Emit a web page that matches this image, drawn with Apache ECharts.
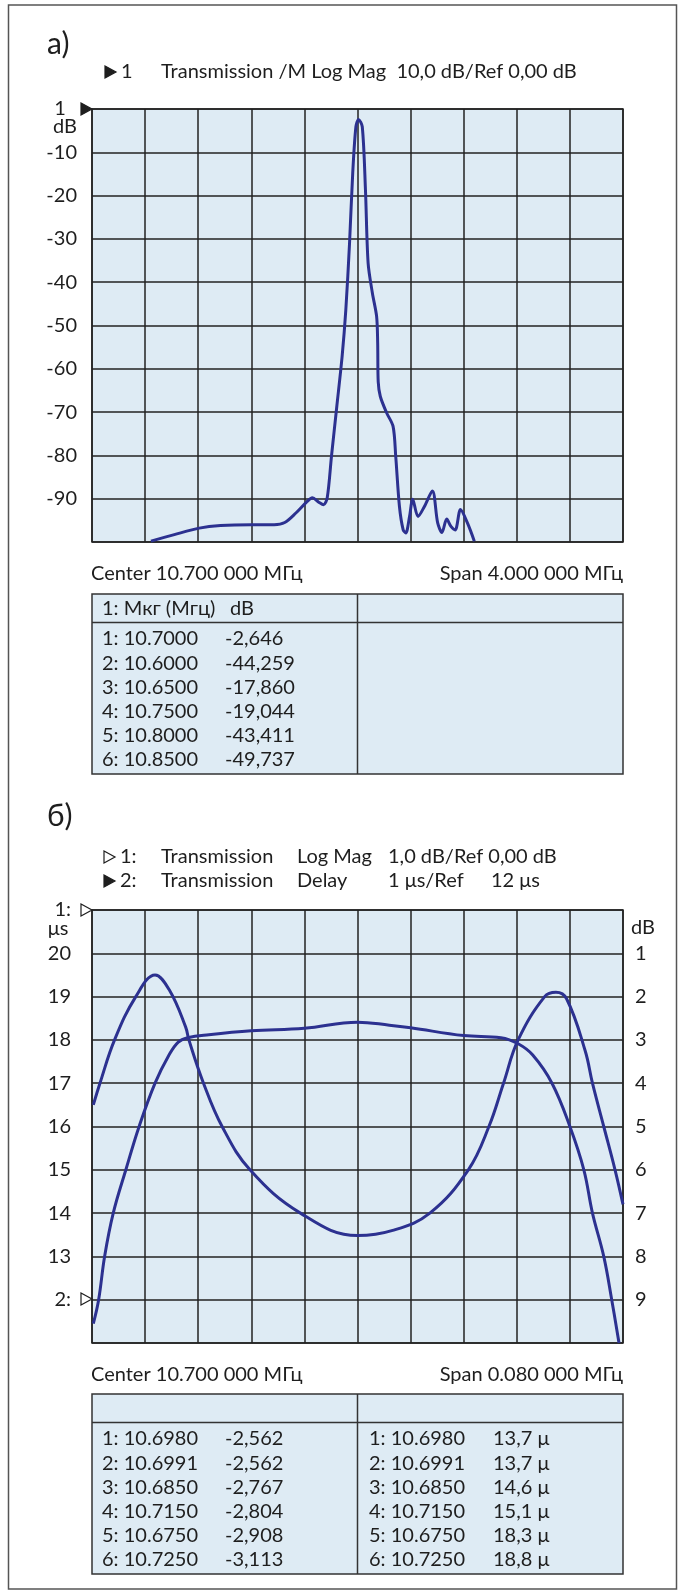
<!DOCTYPE html>
<html>
<head>
<meta charset="utf-8">
<script src="https://cdn.jsdelivr.net/npm/echarts@6/dist/echarts.min.js"></script>
<style>
  html, body { margin: 0; padding: 0; background: #fff; }
  #chart { width: 678px; height: 1592px; }
</style>
</head>
<body>
<div id="chart"></div>
<script>
// --- chart a: offset from 10.700 MHz in kHz, level in dB
const aOffsetKHz = [-1556, -1380, -1192, -1032, -800, -628, -548, -464, -384, -340, -292, -256, -228, -196, -156, -116, -88, -60, -36, -12, 8, 36, 60, 80, 112, 144, 152, 156, 172, 220, 268, 288, 316, 344, 364, 392, 416, 456, 504, 564, 604, 636, 672, 704, 736, 776, 828, 880];
const aLevelDb = [-99.8, -98.3, -96.8, -96.2, -96.0, -96.0, -95.5, -93.3, -90.8, -89.8, -90.8, -91.4, -89.8, -80.2, -68.7, -57.2, -46.4, -31.0, -14.8, -4.1, -2.4, -4.1, -18.7, -35.6, -42.5, -47.9, -54, -63, -66.4, -70.2, -73.3, -80.2, -91.8, -97.2, -97.9, -94.1, -90.1, -94.1, -91.8, -88.2, -95.6, -97.8, -94.7, -96.4, -97.2, -92.5, -95.6, -99.8];

// --- chart b: offset from 10.700 MHz in kHz
const bDelayKHz = [-39.8, -38.8, -36.6, -33.4, -30.5, -28.3, -25.9, -25.4, -23.2, -20.4, -16.2, -8.6, 0, 5.3, 10.9, 16.7, 19.8, 22.0, 24.2, 28.2, 29.9, 31.5, 34.3, 35.4, 37.1, 38.8, 40];
const bDelayUs = [16.5, 17.0, 18.0, 19.0, 19.5, 19.14, 18.3, 18.0, 17.0, 16.0, 15.0, 14.0, 13.48, 13.6, 14.0, 15.0, 16.0, 17.0, 18.0, 19.0, 19.1, 18.95, 17.75, 17.0, 16.0, 15.0, 14.2];
const bMagKHz = [-39.8, -39.0, -38.1, -36.8, -34.9, -32.9, -30.5, -28.4, -27.0, -25.6, -22.4, -16.0, -8.0, 0, 4.8, 8.0, 16.0, 21.6, 24.2, 26.4, 29.3, 32.0, 34.1, 35.4, 37.1, 38.3, 39.4];
const bMagDb = [-9.55, -9.0, -8.0, -7.0, -6.0, -5.0, -4.0, -3.35, -3.05, -2.95, -2.88, -2.79, -2.73, -2.59, -2.66, -2.72, -2.9, -2.95, -3.09, -3.35, -4.0, -5.0, -6.0, -7.0, -8.0, -9.0, -10.0];

// --- marker tables
const tableAHead = ["1: Мкг (Мгц)", "dB"];
const tableAFreq = ["1: 10.7000", "2: 10.6000", "3: 10.6500", "4: 10.7500", "5: 10.8000", "6: 10.8500"];
const tableADb = ["-2,646", "-44,259", "-17,860", "-19,044", "-43,411", "-49,737"];
const tableBFreq = ["1: 10.6980", "2: 10.6991", "3: 10.6850", "4: 10.7150", "5: 10.6750", "6: 10.7250"];
const tableBDb = ["-2,562", "-2,562", "-2,767", "-2,804", "-2,908", "-3,113"];
const tableBDelay = ["13,7 μ", "13,7 μ", "14,6 μ", "15,1 μ", "18,3 μ", "18,8 μ"];

const FONT = "Lato, 'Noto Sans', 'DejaVu Sans', sans-serif";
const INK = "#1e1e1e";
const GRID_BG = "#deebf4";
const LINE = "#2c3190";
const FS = 20;

function zip(xs, ys) {
  return xs.map((x, i) => [x, ys[i]]);
}

function txt(x, y, text, opts) {
  return {
    type: "text",
    x: x,
    y: y,
    style: Object.assign({
      text: text,
      fill: INK,
      font: `${FS}px ${FONT}`,
      textAlign: "left",
      textVerticalAlign: "middle"
    }, opts || {})
  };
}

function tri(x, y, filled) {
  return {
    type: "polygon",
    shape: { points: [[x, y - 6], [x, y + 6], [x + 11, y]] },
    style: { fill: filled ? INK : "#fff", stroke: INK, lineWidth: 1.2 }
  };
}

function table(top, header, cols) {
  const left = 92, right = 623, mid = 357.5, h = 180;
  const els = [
    { type: "rect", shape: { x: left, y: top, width: right - left, height: h }, style: { fill: GRID_BG, stroke: "#333", lineWidth: 1.5 } },
    { type: "line", shape: { x1: left, y1: top + 28.5, x2: right, y2: top + 28.5 }, style: { stroke: "#333", lineWidth: 1.5 } },
    { type: "line", shape: { x1: mid, y1: top, x2: mid, y2: top + h }, style: { stroke: "#333", lineWidth: 1.5 } }
  ];
  header.forEach((hd) => els.push(txt(hd.x, top + 15, hd.text)));
  cols.forEach((col) => {
    col.values.forEach((v, i) => els.push(txt(col.x, top + 45 + i * 24.2, v)));
  });
  return els;
}

const chart = echarts.init(document.getElementById("chart"));

const axisText = { color: INK, fontSize: FS, fontFamily: FONT };
const split = { show: true, lineStyle: { color: "#222", width: 1.5 } };

const graphics = [
  { type: "rect", shape: { x: 8.5, y: 5, width: 668, height: 1584 }, style: { fill: "none", stroke: "#555", lineWidth: 1.5 } },
  // chart a headings
  txt(47, 44, "a)", { font: `30px ${FONT}` }),
  tri(105, 72, true),
  txt(121, 72, "1"),
  txt(161, 72, "Transmission /M Log Mag  10,0 dB/Ref 0,00 dB"),
  tri(81, 109, true),
  txt(60, 109, "1", { textAlign: "center" }),
  txt(65, 127, "dB", { textAlign: "center" }),
  txt(91, 574, "Center 10.700 000 МГц"),
  txt(623, 574, "Span 4.000 000 МГц", { textAlign: "right" }),
  // chart b headings
  txt(47, 816, "б)", { font: `30px ${FONT}` }),
  tri(104, 857, false),
  txt(120, 857, "1:"),
  txt(161, 857, "Transmission"),
  txt(297, 857, "Log Mag"),
  txt(388, 857, "1,0 dB/Ref 0,00 dB"),
  tri(104, 881, true),
  txt(120, 881, "2:"),
  txt(161, 881, "Transmission"),
  txt(297, 881, "Delay"),
  txt(388, 881, "1 μs/Ref"),
  txt(491, 881, "12 μs"),
  tri(81, 910, false),
  tri(81, 1299, false),
  txt(58, 929, "μs", { textAlign: "center" }),
  txt(631, 928, "dB"),
  txt(91, 1375, "Center 10.700 000 МГц"),
  txt(623, 1375, "Span 0.080 000 МГц", { textAlign: "right" })
].concat(
  table(594, [{ x: 102, text: tableAHead[0] }, { x: 230, text: tableAHead[1] }],
    [{ x: 102, values: tableAFreq }, { x: 225, values: tableADb }]),
  table(1394, [],
    [{ x: 102, values: tableBFreq }, { x: 225, values: tableBDb },
     { x: 369, values: tableBFreq }, { x: 493, values: tableBDelay }])
);

chart.setOption({
  animation: false,
  grid: [
    { left: 92, top: 109, width: 531, height: 433, show: true, backgroundColor: GRID_BG, borderColor: "#222", borderWidth: 1.5 },
    { left: 92, top: 910, width: 531, height: 433, show: true, backgroundColor: GRID_BG, borderColor: "#222", borderWidth: 1.5 }
  ],
  xAxis: [
    { type: "value", gridIndex: 0, min: -2000, max: 2000, interval: 400, axisLabel: { show: false }, axisTick: { show: false }, axisLine: { show: false }, splitLine: split },
    { type: "value", gridIndex: 1, min: -40, max: 40, interval: 8, axisLabel: { show: false }, axisTick: { show: false }, axisLine: { show: false }, splitLine: split }
  ],
  yAxis: [
    {
      type: "value", gridIndex: 0, min: -100, max: 0, interval: 10,
      axisLine: { show: false }, axisTick: { show: false }, splitLine: split,
      axisLabel: Object.assign({ margin: 15, formatter: (v) => (v === 0 || v === -100 ? "" : String(v)) }, axisText)
    },
    {
      type: "value", gridIndex: 1, min: 11, max: 21, interval: 1, position: "left",
      axisLine: { show: false }, axisTick: { show: false }, splitLine: split,
      axisLabel: Object.assign({ margin: 21, formatter: (v) => (v === 21 ? "1:" : v === 12 ? "2:" : v === 11 ? "" : String(v)) }, axisText)
    },
    {
      type: "value", gridIndex: 1, min: -10, max: 0, interval: 1, position: "right",
      axisLine: { show: false }, axisTick: { show: false }, splitLine: { show: false },
      axisLabel: Object.assign({ margin: 12, formatter: (v) => (v === 0 || v === -10 ? "" : String(Math.abs(v))) }, axisText)
    }
  ],
  series: [
    { name: "Transmission", type: "line", xAxisIndex: 0, yAxisIndex: 0, data: zip(aOffsetKHz, aLevelDb), smooth: 0.3, showSymbol: false, lineStyle: { color: LINE, width: 3 }, z: 5 },
    { name: "Delay", type: "line", xAxisIndex: 1, yAxisIndex: 1, data: zip(bDelayKHz, bDelayUs), smooth: 0.4, showSymbol: false, lineStyle: { color: LINE, width: 3 }, z: 5 },
    { name: "Log Mag", type: "line", xAxisIndex: 1, yAxisIndex: 2, data: zip(bMagKHz, bMagDb), smooth: 0.4, showSymbol: false, lineStyle: { color: LINE, width: 3 }, z: 5 }
  ],
  graphic: graphics
});
</script>
</body>
</html>
